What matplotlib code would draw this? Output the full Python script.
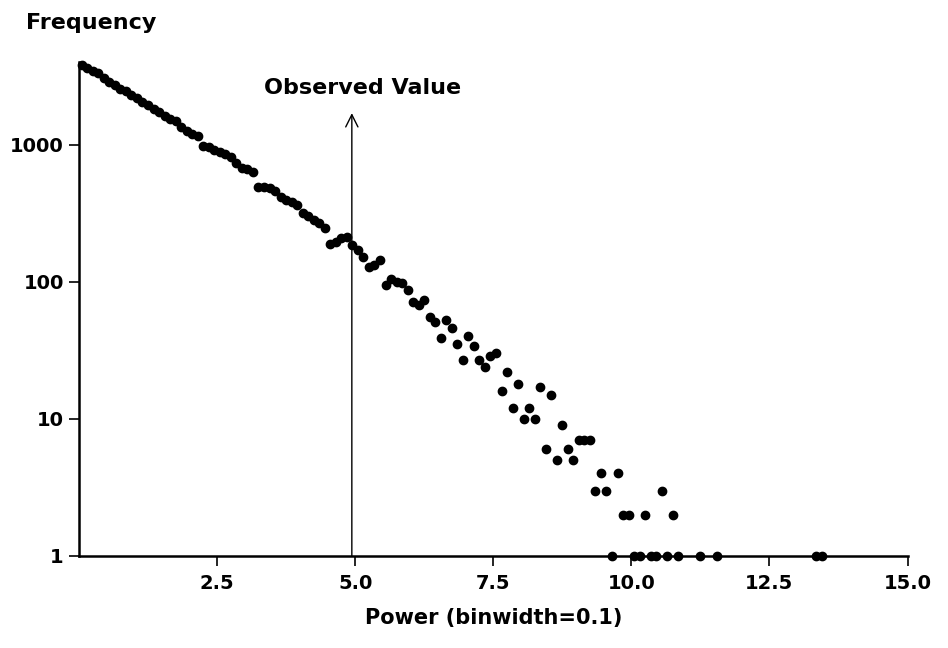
import matplotlib
matplotlib.use("Agg")
import matplotlib.pyplot as plt

# bin centres (binwidth 0.1) and counts
power = [0.05, 0.15, 0.25, 0.35, 0.45, 0.55, 0.65, 0.75, 0.85, 0.95,
         1.05, 1.15, 1.25, 1.35, 1.45, 1.55, 1.65, 1.75, 1.85, 1.95,
         2.05, 2.15, 2.25, 2.35, 2.45, 2.55, 2.65, 2.75, 2.85, 2.95,
         3.05, 3.15, 3.25, 3.35, 3.45, 3.55, 3.65, 3.75, 3.85, 3.95,
         4.05, 4.15, 4.25, 4.35, 4.45, 4.55, 4.65, 4.75, 4.85, 4.95,
         5.05, 5.15, 5.25, 5.35, 5.45, 5.55, 5.65, 5.75, 5.85, 5.95,
         6.05, 6.15, 6.25, 6.35, 6.45, 6.55, 6.65, 6.75, 6.85, 6.95,
         7.05, 7.15, 7.25, 7.35, 7.45, 7.55, 7.65, 7.75, 7.85, 7.95,
         8.05, 8.15, 8.25, 8.35, 8.45, 8.55, 8.65, 8.75, 8.85, 8.95,
         9.05, 9.15, 9.25, 9.35, 9.45, 9.55, 9.65, 9.75, 9.85, 9.95,
         10.05, 10.15, 10.25, 10.35, 10.45, 10.55, 10.65, 10.75, 10.85,
         11.25, 11.55, 13.35, 13.45]
frequency = [3800, 3630, 3470, 3310, 3090, 2880, 2750, 2570, 2450, 2290,
             2190, 2040, 1950, 1820, 1740, 1620, 1550, 1480, 1350, 1260,
             1200, 1150, 980, 955, 910, 890, 850, 810, 740, 675,
             660, 630, 490, 490, 480, 457, 417, 398, 380, 363,
             316, 302, 282, 269, 245, 190, 195, 209, 214, 186,
             170, 151, 129, 132, 145, 95, 104, 100, 98, 87,
             71, 68, 74, 55, 51, 39, 53, 46, 35, 27,
             40, 34, 27, 24, 29, 30, 16, 22, 12, 18,
             10, 12, 10, 17, 6, 15, 5, 9, 6, 5,
             7, 7, 7, 3, 4, 3, 1, 4, 2, 2,
             1, 1, 2, 1, 1, 3, 1, 2, 1,
             1, 1, 1, 1]

observed = 4.94
x_ticks = [2.5, 5.0, 7.5, 10.0, 12.5, 15.0]
x_labels = ["2.5", "5.0", "7.5", "10.0", "12.5", "15.0"]
y_ticks = [1, 10, 100, 1000]
y_labels = ["1", "10", "100", "1000"]

plt.rcParams['font.family'] = ['DejaVu Sans']
plt.rcParams['font.weight'] = 'bold'
plt.rcParams['axes.labelweight'] = 'bold'

fig = plt.figure(figsize=(9.48, 6.48), dpi=100)
ax = fig.add_axes([0.0833, 0.142, 0.874, 0.762])

ax.plot(power, frequency, 'o', color='black', markersize=6, clip_on=False, zorder=3)

ax.set_yscale('log')
ax.set_xlim(0, 15.0)
ax.set_ylim(1, 4000)
ax.set_xticks(x_ticks)
ax.set_xticklabels(x_labels)
ax.set_yticks(y_ticks)
ax.set_yticklabels(y_labels)
ax.minorticks_off()
ax.tick_params(axis='both', direction='out', length=7, width=1.2, labelsize=14, pad=4)
ax.tick_params(axis='x', pad=6)

for side in ['top', 'right']:
    ax.spines[side].set_visible(False)
for side in ['left', 'bottom']:
    ax.spines[side].set_linewidth(1.8)

# observed value arrow
ax.annotate('', xy=(observed, 1700), xytext=(observed, 1),
            arrowprops=dict(arrowstyle='->', color='black', lw=1.0,
                            mutation_scale=22, shrinkA=0, shrinkB=0))
ax.text(5.14, 2600, 'Observed Value', ha='center', va='center', fontsize=16)

ax.set_xlabel('Power (binwidth=0.1)', fontsize=15, labelpad=11)
fig.text(0.027, 0.965, 'Frequency', ha='left', va='center', fontsize=16, fontweight='bold')

fig.savefig('out.png', dpi=100)
